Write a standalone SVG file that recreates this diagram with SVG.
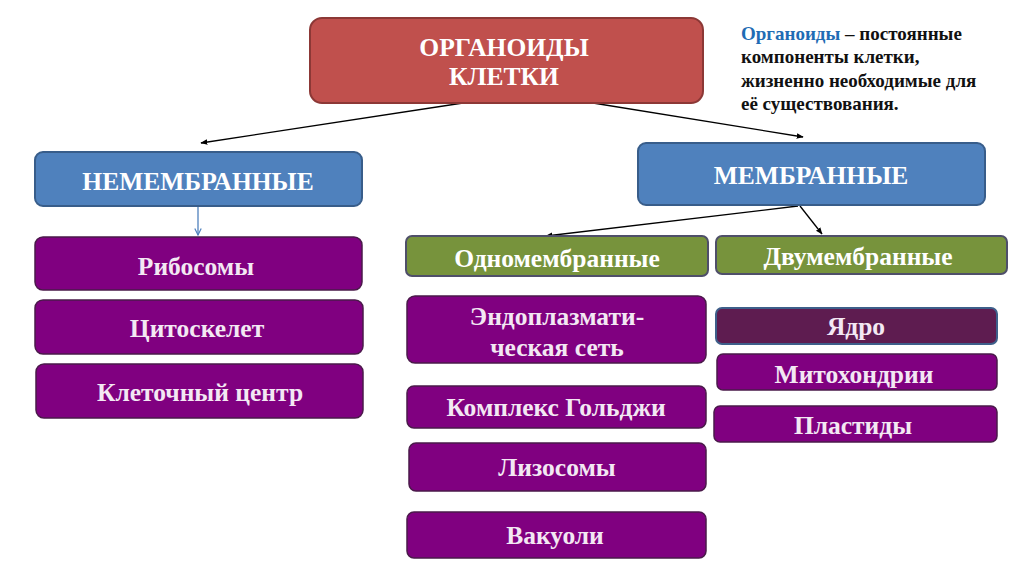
<svg xmlns="http://www.w3.org/2000/svg" width="1024" height="574" viewBox="0 0 1024 574">
<defs>
<style>
text{font-family:"Liberation Serif","Times New Roman",serif;font-weight:bold;text-anchor:middle}
.red{fill:#c0504d;stroke:#8c3836;stroke-width:2}
.blue{fill:#4f81bd;stroke:#385d8a;stroke-width:2}
.green{fill:#77933c;stroke:#4f4f6a;stroke-width:2}
.purple{fill:#800080;stroke:#4a1a4a;stroke-width:1.5}
.plum{fill:#5e1c50;stroke:#3e5f8a;stroke-width:2}
.tw{fill:#ffffff}
.tp{fill:#f3e8f3}
.t21{font-size:25.5px}
.t20{font-size:25.5px}
.def{font-size:19px;text-anchor:start;fill:#111}
.line{stroke:#000;stroke-width:1.3;fill:none}
</style>
<marker id="ah" viewBox="0 0 10 10" refX="9" refY="5" markerWidth="7" markerHeight="7" orient="auto-start-reverse" markerUnits="userSpaceOnUse">
<path d="M0,1 L10,5 L0,9 Z" fill="#000"/>
</marker>
<marker id="ahb" viewBox="0 0 10 10" refX="9" refY="5" markerWidth="8" markerHeight="8" orient="auto" markerUnits="userSpaceOnUse">
<path d="M1,1 L9,5 L1,9" fill="none" stroke="#4f81bd" stroke-width="1.5"/>
</marker>
</defs>
<rect width="1024" height="574" fill="#ffffff"/>

<g id="connectors">
<line class="line" x1="463" y1="103" x2="201" y2="143" marker-end="url(#ah)"/>
<line class="line" x1="593" y1="103" x2="803" y2="137" marker-end="url(#ah)"/>
<line x1="198" y1="207" x2="198" y2="235" stroke="#4f81bd" stroke-width="1.3" marker-end="url(#ahb)"/>
<line class="line" x1="798" y1="206" x2="546" y2="236" marker-end="url(#ah)"/>
<line class="line" x1="800" y1="206" x2="822" y2="234" marker-end="url(#ah)"/>
</g>

<g id="organoids">
<rect class="red" x="310" y="18" width="393" height="85" rx="12"/>
<text class="tw" x="504" y="56" font-size="25.5">ОРГАНОИДЫ</text>
<text class="tw" x="504" y="85" font-size="25.5">КЛЕТКИ</text>
</g>

<g id="definition">
<text class="def" x="741" y="40"><tspan fill="#1f6cb4">Органоиды</tspan> – постоянные</text>
<text class="def" x="741" y="63">компоненты клетки,</text>
<text class="def" x="741" y="87">жизненно необходимые для</text>
<text class="def" x="741" y="110">её существования.</text>
</g>

<g id="nonmembrane">
<rect class="blue" x="35" y="152" width="327" height="54" rx="8"/>
<text class="tw t21" x="198" y="190">НЕМЕМБРАННЫЕ</text>
</g>

<g id="membrane">
<rect class="blue" x="638" y="143" width="347" height="62" rx="8"/>
<text class="tw t21" x="811" y="184">МЕМБРАННЫЕ</text>
</g>

<g id="ribosomes">
<rect class="purple" x="35" y="237" width="327" height="53" rx="8"/>
<text class="tp t20" x="196" y="275">Рибосомы</text>
</g>
<g id="cytoskeleton">
<rect class="purple" x="35" y="300" width="328" height="54" rx="8"/>
<text class="tp t20" x="197" y="337">Цитоскелет</text>
</g>
<g id="centrosome">
<rect class="purple" x="36" y="364" width="327" height="54" rx="8"/>
<text class="tp t20" x="200" y="401">Клеточный центр</text>
</g>

<g id="single-membrane">
<rect class="green" x="406" y="236" width="302" height="40" rx="6"/>
<text class="tw t20" x="557" y="267">Одномембранные</text>
</g>
<g id="double-membrane">
<rect class="green" x="716" y="236" width="291" height="38" rx="6"/>
<text class="tw t20" x="858" y="265">Двумембранные</text>
</g>

<g id="er">
<rect class="purple" x="407" y="296" width="299" height="67" rx="8"/>
<text class="tp t20" x="557" y="325">Эндоплазмати-</text>
<text class="tp t20" x="557" y="356">ческая сеть</text>
</g>
<g id="golgi">
<rect class="purple" x="407" y="386" width="299" height="42" rx="7"/>
<text class="tp t20" x="556" y="416">Комплекс Гольджи</text>
</g>
<g id="lysosomes">
<rect class="purple" x="409" y="443" width="297" height="48" rx="7"/>
<text class="tp t20" x="557" y="476">Лизосомы</text>
</g>
<g id="vacuoles">
<rect class="purple" x="407" y="512" width="299" height="46" rx="7"/>
<text class="tp t20" x="555" y="544">Вакуоли</text>
</g>

<g id="nucleus">
<rect class="plum" x="716" y="308" width="281" height="36" rx="6"/>
<text class="tp t20" x="856" y="335">Ядро</text>
</g>
<g id="mitochondria">
<rect class="purple" x="717" y="354" width="280" height="36" rx="6"/>
<text class="tp t20" x="854" y="383">Митохондрии</text>
</g>
<g id="plastids">
<rect class="purple" x="714" y="406" width="283" height="36" rx="6"/>
<text class="tp t20" x="853" y="434">Пластиды</text>
</g>
</svg>
